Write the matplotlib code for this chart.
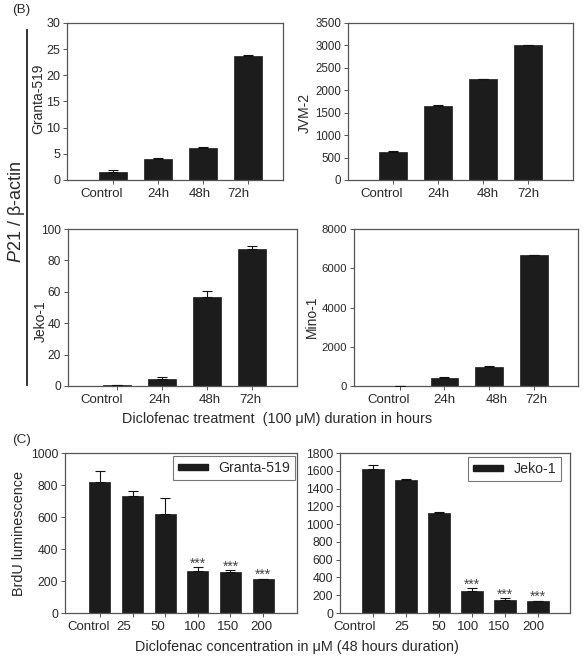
import matplotlib
matplotlib.use("Agg")
import matplotlib.pyplot as plt
from matplotlib.patches import Patch
from matplotlib.transforms import ScaledTranslation

plt.rcParams['font.family'] = ['Liberation Sans', 'DejaVu Sans']
plt.rcParams['mathtext.fontset'] = 'custom'
plt.rcParams['mathtext.it'] = 'Liberation Sans:italic'
plt.rcParams['mathtext.rm'] = 'Liberation Sans'

# --- data (B): P21 / beta-actin over time
time_labels = ["Control", "24h", "48h", "72h"]
granta_p21 = [1.5, 4.1, 6.1, 23.7]
granta_p21_err = [0.5, 0.05, 0.3, 0.15]
jvm_p21 = [620, 1650, 2250, 3000]
jvm_p21_err = [20, 15, 10, 15]
jeko_p21 = [0.5, 4.5, 56.5, 87.5]
jeko_p21_err = [0.1, 1.0, 4.0, 1.8]
mino_p21 = [10, 430, 960, 6650]
mino_p21_err = [5, 30, 40, 30]

# --- data (C): BrdU luminescence by dose
dose_labels = ["Control", "25", "50", "100", "150", "200"]
granta_brdu = [820, 730, 620, 260, 255, 210]
granta_brdu_err = [70, 35, 100, 25, 12, 5]
jeko_brdu = [1620, 1495, 1125, 250, 150, 135]
jeko_brdu_err = [40, 15, 8, 30, 15, 5]
signif = ["", "", "", "***", "***", "***"]

W, H = 585, 663
fig = plt.figure(figsize=(W / 100, H / 100), dpi=100)

BAR = '#1c1c1c'
EDGE = '#555555'
TXT = '#2a2a2a'


def make_ax(l, t, r, b):
    return fig.add_axes([l / W, 1 - b / H, (r - l) / W, (b - t) / H])


def style(ax, labels, offsets, xlim, ylim, yticks, ysize):
    n = len(labels)
    ax.set_xlim(*xlim)
    ax.set_ylim(*ylim)
    ax.set_yticks(yticks)
    ax.set_xticks(range(n))
    ax.set_xticklabels(labels)
    ax.tick_params(axis='both', direction='out', length=3, width=0.7,
                   colors=EDGE, labelcolor=TXT, pad=2)
    ax.tick_params(axis='x', pad=3, labelsize=9.5)
    ax.tick_params(axis='y', labelsize=ysize)
    for s in ax.spines.values():
        s.set_color(EDGE)
        s.set_linewidth(0.9)
    for lab, dx in zip(ax.get_xticklabels(), offsets):
        lab.set_transform(lab.get_transform() +
                          ScaledTranslation(dx / 100, 0, fig.dpi_scale_trans))


def bars(ax, vals, errs, width):
    x = range(len(vals))
    ax.bar(x, vals, width=width, color=BAR, edgecolor=BAR, linewidth=0.5, zorder=2)
    ax.errorbar(x, vals, yerr=[[0] * len(errs), errs], fmt='none',
                ecolor='#111111', elinewidth=0.8, capsize=3.5, capthick=0.8, zorder=3)


# (B) top row
ax1 = make_ax(67, 23, 283, 180)
bars(ax1, granta_p21, granta_p21_err, 0.62)
style(ax1, time_labels, [-11, 0, -3, -10], (-1.02, 3.78), (0, 30), range(0, 31, 5), 9)
ax1.set_ylabel("Granta-519", fontsize=10, color=TXT)
ax1.yaxis.set_label_coords(-0.1, 0.52)

ax2 = make_ax(348, 23, 573, 180)
bars(ax2, jvm_p21, jvm_p21_err, 0.62)
style(ax2, time_labels, [-11, 0, 5, 0], (-1, 4), (0, 3500), range(0, 3501, 500), 8.3)
ax2.set_ylabel("JVM-2", fontsize=10, color=TXT)
ax2.yaxis.set_label_coords(-0.16, 0.43)

ax3 = make_ax(68, 229, 297, 386)
bars(ax3, jeko_p21, jeko_p21_err, 0.62)
style(ax3, time_labels, [-15, -3, 3, -2], (-1.09, 4.0), (0, 100), range(0, 101, 20), 8.6)
ax3.set_ylabel("Jeko-1", fontsize=10, color=TXT)
ax3.yaxis.set_label_coords(-0.09, 0.41)

ax4 = make_ax(354, 229, 578, 386)
bars(ax4, mino_p21, mino_p21_err, 0.62)
style(ax4, time_labels, [-11, 0, 7, 2], (-1.02, 3.98), (0, 8000), range(0, 8001, 2000), 8.2)
ax4.set_ylabel("Mino-1", fontsize=10, color=TXT)
ax4.yaxis.set_label_coords(-0.156, 0.44)

fig.text(12 / W, 1 - 10 / H, "(B)", fontsize=9.7, color=TXT, va='center')
fig.text(17 / W, 1 - 212 / H, r"$\mathit{P21}$ / β-actin", rotation=90,
         fontsize=13, color=TXT, ha='center', va='center')
fig.add_artist(plt.Line2D([27 / W, 27 / W], [1 - 385 / H, 1 - 30 / H],
                          color='#222222', lw=1.3))
fig.text(277 / W, 1 - 419 / H, "Diclofenac treatment  (100 μM) duration in hours",
         fontsize=10.4, color=TXT, ha='center', va='center')

# (C) bottom row
ax5 = make_ax(65, 453, 297, 613)
bars(ax5, granta_brdu, granta_brdu_err, 0.64)
style(ax5, dose_labels, [-11, -9, -7, -3, -2, -2], (-1.07, 6.04), (0, 1000),
      range(0, 1001, 200), 8.8)
ax5.set_ylabel("BrdU luminescence", fontsize=10.4, color=TXT)
ax5.yaxis.set_label_coords(-0.166, 0.5)

ax6 = make_ax(340, 453, 570, 613)
bars(ax6, jeko_brdu, jeko_brdu_err, 0.64)
style(ax6, dose_labels, [-18, -4, 0, -4, -6, -5], (-1, 5.97), (0, 1800),
      range(0, 1801, 200), 8.8)

for ax, vals, errs, name, anchor in [
        (ax5, granta_brdu, granta_brdu_err, "Granta-519", (0.991, 0.981)),
        (ax6, jeko_brdu, jeko_brdu_err, "Jeko-1", (0.961, 0.975))]:
    for i, s in enumerate(signif):
        if s:
            ax.annotate(s, (i, vals[i] + errs[i]), xytext=(0, -2.5),
                        textcoords='offset points', ha='center', va='bottom',
                        fontsize=10, color='#444444')
    leg = ax.legend(handles=[Patch(color=BAR)], labels=[name], loc='upper right',
                    fontsize=10.2, frameon=True, fancybox=False, handlelength=2.15,
                    handleheight=0.35, borderpad=0.35, handletextpad=0.7,
                    borderaxespad=0, bbox_to_anchor=anchor)
    leg.get_frame().set_edgecolor(EDGE)
    leg.get_frame().set_linewidth(0.8)
    for t in leg.get_texts():
        t.set_color(TXT)

fig.text(12 / W, 1 - 440 / H, "(C)", fontsize=9.7, color=TXT, va='center')
fig.text(297 / W, 1 - 647 / H, "Diclofenac concentration in μM (48 hours duration)",
         fontsize=10.4, color=TXT, ha='center', va='center')

fig.savefig("out.png", dpi=100)
